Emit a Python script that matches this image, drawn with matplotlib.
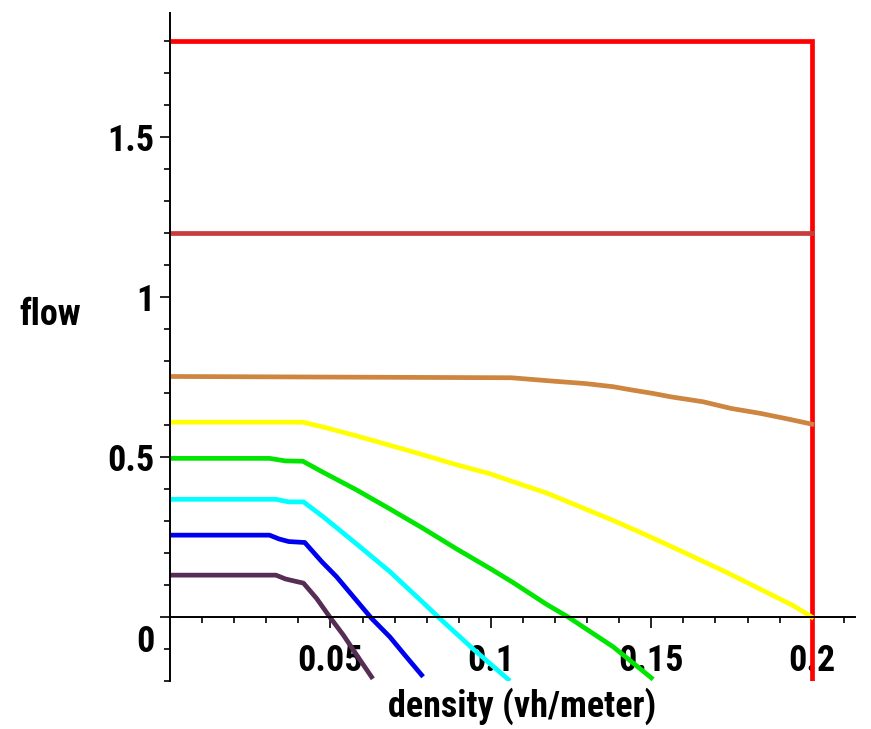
#! /usr/bin/env python3

import matplotlib
matplotlib.use('Agg')
import matplotlib.pyplot as plt
import matplotlib.transforms as mtransforms
from matplotlib import font_manager
from matplotlib.font_manager import FontProperties
from matplotlib.ticker import FixedLocator

# flow vs density curves
red_x = [0, 0.2, 0.2]
red_y = [1.8, 1.8, -0.2]

darkred_x = [0, 0.2]
darkred_y = [1.2, 1.2]

brown_x = [0, 0.1064, 0.1199, 0.1293, 0.1381, 0.1438, 0.1505, 0.1563, 0.1661,
           0.1749, 0.1838, 0.1931, 0.2]
brown_y = [0.752, 0.748, 0.737, 0.730, 0.720, 0.710, 0.699, 0.688, 0.673,
           0.652, 0.637, 0.618, 0.603]

yellow_x = [0, 0.0414, 0.0485, 0.0582, 0.0685, 0.0789, 0.0893, 0.0997, 0.1069,
            0.1173, 0.1277, 0.1381, 0.1485, 0.1589, 0.1734, 0.1838, 0.1942, 0.2]
yellow_y = [0.609, 0.609, 0.592, 0.566, 0.537, 0.507, 0.476, 0.448, 0.423,
            0.388, 0.345, 0.302, 0.256, 0.208, 0.140, 0.088, 0.036, 0.0]

green_x = [0, 0.031, 0.036, 0.0414, 0.0478, 0.0582, 0.0685, 0.0789, 0.0893,
           0.0997, 0.1069, 0.1173, 0.1241, 0.1381, 0.150]
green_y = [0.496, 0.496, 0.488, 0.487, 0.452, 0.397, 0.338, 0.277, 0.213,
           0.152, 0.108, 0.040, 0.0, -0.093, -0.19]

cyan_x = [0, 0.033, 0.037, 0.0416, 0.0478, 0.0582, 0.0685, 0.0789, 0.0836,
          0.0945, 0.1054]
cyan_y = [0.368, 0.368, 0.36, 0.36, 0.313, 0.228, 0.142, 0.045, 0.0,
          -0.100, -0.195]

blue_x = [0, 0.031, 0.034, 0.037, 0.042, 0.0473, 0.0519, 0.0576, 0.0628,
          0.0685, 0.0732, 0.0784]
blue_y = [0.256, 0.256, 0.244, 0.236, 0.233, 0.173, 0.126, 0.058, -0.004,
          -0.062, -0.119, -0.181]

purple_x = [0, 0.033, 0.036, 0.039, 0.0416, 0.0457, 0.0498, 0.054, 0.0582,
            0.0628]
purple_y = [0.131, 0.131, 0.119, 0.112, 0.106, 0.058, 0.0, -0.056, -0.119,
            -0.187]

x_major = [0.05, 0.1, 0.15, 0.2]
x_major_labels = ['0.05', '0.1', '0.15', '0.2']
y_major = [0, 0.5, 1, 1.5]
y_major_labels = ['0', '0.5', '1', '1.5']


def pick_font():
    # narrow bold font like the maple output, if one is installed
    for name in ['Liberation Sans Narrow', 'Roboto Condensed', 'Open Sans Condensed']:
        try:
            font_manager.findfont(FontProperties(family=name),
                                  fallback_to_default=False)
            return [name, 'DejaVu Sans']
        except ValueError:
            pass
    return ['DejaVu Sans']


def main():
    fam = pick_font()
    fig = plt.figure(figsize=(8.71, 7.29), dpi=100)
    ax = fig.add_axes([0.1952, 0.0658, 0.7865, 0.9163])

    lw = 3.4
    ax.plot(red_x, red_y, color='#ff0000', lw=lw, solid_joinstyle='miter')
    ax.plot(darkred_x, darkred_y, color='#c83c3c', lw=lw)
    ax.plot(brown_x, brown_y, color='#cd853f', lw=lw)
    ax.plot(yellow_x, yellow_y, color='#ffff00', lw=lw)
    ax.plot(green_x, green_y, color='#00e600', lw=lw)
    ax.plot(cyan_x, cyan_y, color='#00ffff', lw=lw)
    ax.plot(blue_x, blue_y, color='#0000f0', lw=lw)
    ax.plot(purple_x, purple_y, color='#552d55', lw=lw)

    ax.set_xlim(0, 0.2135)
    ax.set_ylim(-0.2, 1.888)

    # maple style axes through the origin
    ax.spines['top'].set_visible(False)
    ax.spines['right'].set_visible(False)
    ax.spines['left'].set_position(('data', 0))
    ax.spines['bottom'].set_position(('data', 0))
    for s in ('left', 'bottom'):
        ax.spines[s].set_linewidth(1.4)

    ax.xaxis.set_major_locator(FixedLocator(x_major))
    ax.xaxis.set_minor_locator(FixedLocator([i / 100 for i in range(1, 22)]))
    ax.yaxis.set_major_locator(FixedLocator(y_major))
    ax.yaxis.set_minor_locator(FixedLocator([i / 10 for i in range(-2, 19)]))

    # size the text so the x label is as wide as in the picture
    xl = ax.set_xlabel('density (vh/meter)', family=fam, weight='bold', fontsize=27)
    fig.canvas.draw()
    w = xl.get_window_extent().width
    fs = min(26, 27 * 275 / w)
    xl.set_fontsize(fs)

    ax.set_xticklabels(x_major_labels, family=fam, weight='bold', fontsize=fs)
    ax.set_yticklabels(y_major_labels, family=fam, weight='bold', fontsize=fs)

    h = fs * 0.73  # digit height in points
    ax.tick_params(axis='x', which='major', direction='out', length=8, width=1.2,
                   pad=max(2, 39 * 0.72 - 8 - h / 2))
    ax.tick_params(axis='x', which='minor', direction='out', length=4.5, width=1.2)
    ax.tick_params(axis='y', which='major', direction='out', length=7, width=1.2, pad=4)
    ax.tick_params(axis='y', which='minor', direction='out', length=4.5, width=1.2)

    # the "0" label sits below the x axis
    t0 = ax.yaxis.get_major_ticks()[0].label1
    t0.set_transform(t0.get_transform() +
                     mtransforms.ScaledTranslation(0, -21 / 100, fig.dpi_scale_trans))

    ax.xaxis.set_label_coords(0.514, -0.038)
    ax.xaxis.label.set_va('center')
    ax.set_ylabel('flow', family=fam, weight='bold', fontsize=fs, rotation=0)
    ax.yaxis.set_label_coords(-0.175, 0.548)
    ax.yaxis.label.set_va('center')
    ax.yaxis.label.set_ha('center')

    fig.savefig('out.png', dpi=100)


if __name__ == "__main__":
    main()
